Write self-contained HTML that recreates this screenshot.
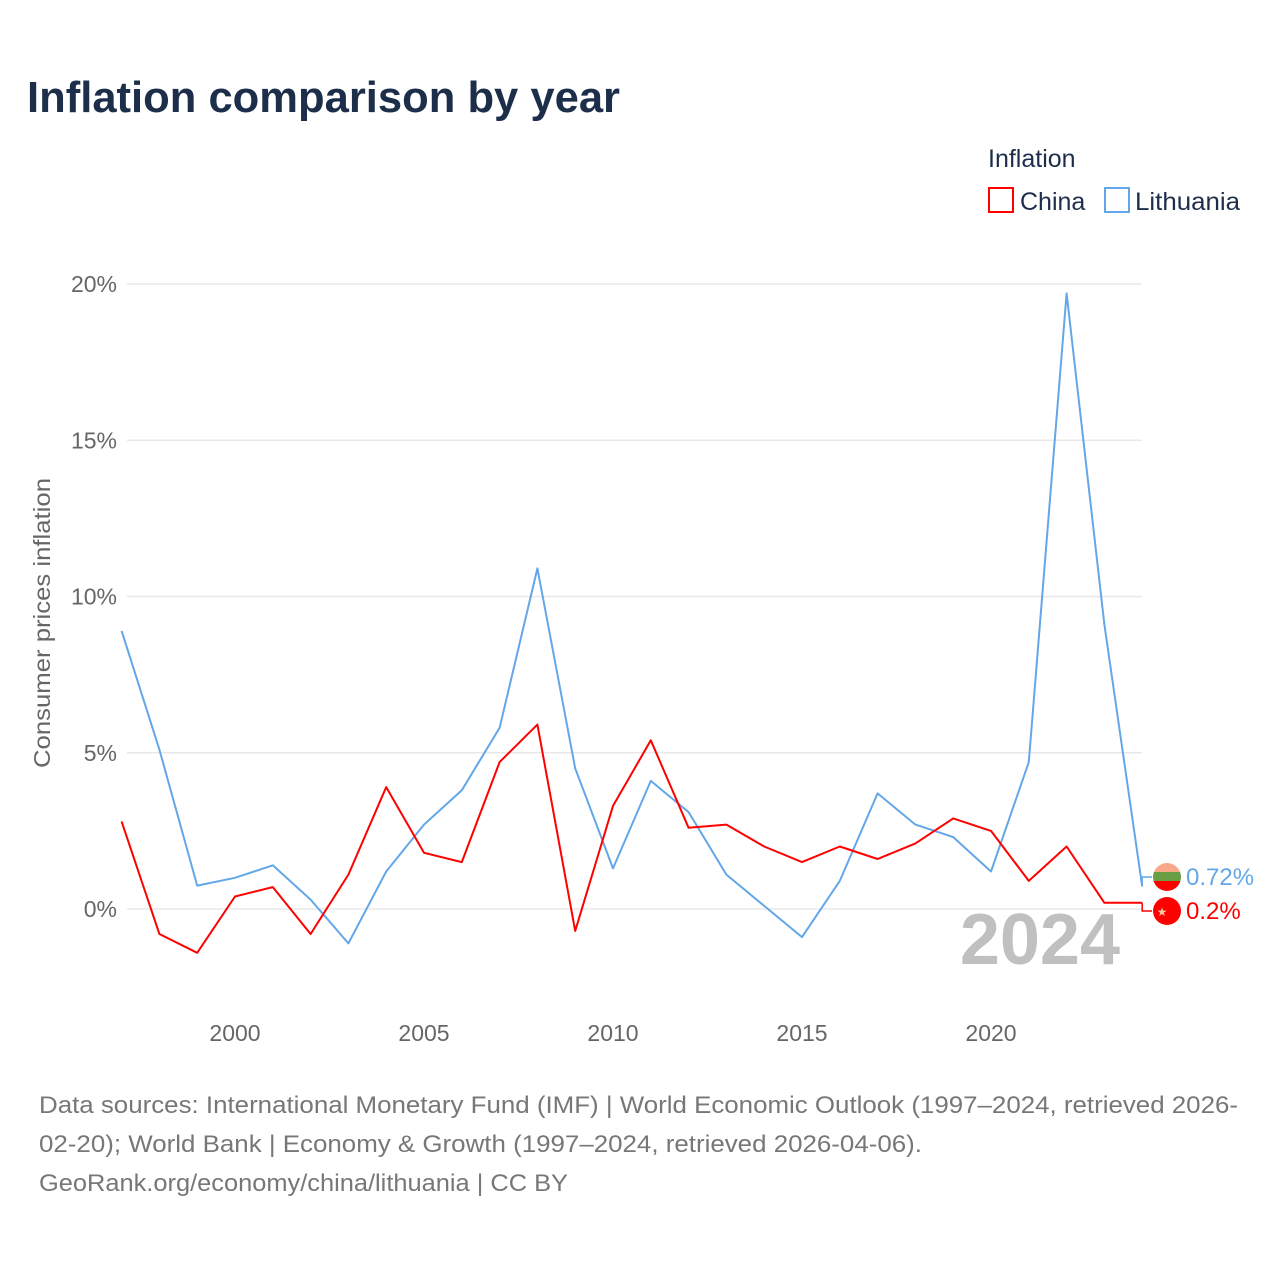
<!DOCTYPE html>
<html><head><meta charset="utf-8">
<style>
body{margin:0;background:#fff;font-family:"Liberation Sans",sans-serif;}
svg{display:block}
</style></head>
<body>
<svg id="chart" width="1280" height="1280" xmlns="http://www.w3.org/2000/svg">
<text x="27" y="112" font-size="44" font-weight="bold" fill="#1c2e4a" textLength="593" lengthAdjust="spacingAndGlyphs">Inflation comparison by year</text>
<text x="988" y="167" font-size="25" fill="#1c2e4a">Inflation</text>
<g><rect x="989" y="188" width="24" height="24" fill="none" stroke="#ff0000" stroke-width="2"/><text x="1020" y="210" font-size="25" fill="#1c2e4a">China</text></g>
<g><rect x="1105" y="188" width="24" height="24" fill="none" stroke="#63a7e8" stroke-width="2"/><text x="1135" y="210" font-size="25" fill="#1c2e4a" textLength="105" lengthAdjust="spacingAndGlyphs">Lithuania</text></g>
<text transform="translate(50,623) rotate(-90)" text-anchor="middle" font-size="23" fill="#666" textLength="290" lengthAdjust="spacingAndGlyphs">Consumer prices inflation</text>
<g id="grid"></g><g id="yt"></g><g id="xt"></g>
<text x="1120" y="964" text-anchor="end" font-size="72" font-weight="bold" fill="#c0c0c0">2024</text>
<g id="lines"></g>
<g><clipPath id="c1"><circle cx="1167" cy="877" r="14"/></clipPath><g clip-path="url(#c1)"><rect x="1150" y="860" width="34" height="12" fill="#f9a98a"/><rect x="1150" y="872" width="34" height="9" fill="#6a9e45"/><rect x="1150" y="881" width="34" height="12" fill="#ff0000"/></g></g>
<g><circle cx="1167" cy="911" r="14" fill="#ff0000"/><text x="1162" y="916" font-size="12" fill="#f8c8a0" text-anchor="middle">★</text></g>
<text x="1186" y="885" font-size="24" fill="#63a7e8">0.72%</text>
<text x="1186" y="919" font-size="24" fill="#ff0000">0.2%</text>
<text font-size="24" fill="#777"><tspan x="39" y="1113" textLength="1199" lengthAdjust="spacingAndGlyphs">Data sources: International Monetary Fund (IMF) | World Economic Outlook (1997–2024, retrieved 2026-</tspan><tspan x="39" y="1152" textLength="883" lengthAdjust="spacingAndGlyphs">02-20); World Bank | Economy &amp; Growth (1997–2024, retrieved 2026-04-06).</tspan><tspan x="39" y="1191" textLength="529" lengthAdjust="spacingAndGlyphs">GeoRank.org/economy/china/lithuania | CC BY</tspan></text>
</svg>
<script>
const years=[1997,1998,1999,2000,2001,2002,2003,2004,2005,2006,2007,2008,2009,2010,2011,2012,2013,2014,2015,2016,2017,2018,2019,2020,2021,2022,2023,2024];
const china=[2.8,-0.8,-1.4,0.4,0.7,-0.8,1.1,3.9,1.8,1.5,4.7,5.9,-0.7,3.3,5.4,2.6,2.7,2.0,1.5,2.0,1.6,2.1,2.9,2.5,0.9,2.0,0.2,0.2];
const lithuania=[8.9,5.1,0.75,1.0,1.4,0.3,-1.1,1.2,2.7,3.8,5.8,10.9,4.5,1.3,4.1,3.1,1.1,0.1,-0.9,0.9,3.7,2.7,2.3,1.2,4.7,19.7,9.1,0.72];
const yTicks=[0,5,10,15,20];
const xTicks=[2000,2005,2010,2015,2020];
const NS="http://www.w3.org/2000/svg";
const X=y=>235+(y-2000)*37.8;
const Y=v=>909-v*31.25;
function mk(t,a,p){const e=document.createElementNS(NS,t);for(const k in a)e.setAttribute(k,a[k]);p.appendChild(e);return e;}
const grid=document.getElementById('grid'),yt=document.getElementById('yt'),xt=document.getElementById('xt'),lines=document.getElementById('lines');
yTicks.forEach(v=>{
const l=mk('line',{x1:127,x2:1142,y1:Y(v),y2:Y(v),stroke:'#e8e8e8','stroke-width':1.5},grid);


const t=mk('text',{x:117,y:Y(v)+8,'text-anchor':'end','font-size':23,fill:'#666'},yt);
t.textContent=v+'%';


});
xTicks.forEach(v=>{
const t=mk('text',{x:X(v),y:1041,'text-anchor':'middle','font-size':23,fill:'#666'},xt);
t.textContent=v;


});
function line(vals,color,name){
const d=vals.map((v,i)=>(i?'L':'M')+X(years[i]).toFixed(1)+','+Y(v).toFixed(1)).join('');
const p=mk('path',{d:d,fill:'none',stroke:color,'stroke-width':2,'stroke-linejoin':'round'},lines);


}
line(lithuania,'#63a7e8','lithuania-line');
line(china,'#ff0000','china-line');
const lx=X(years[years.length-1]);
mk('path',{d:`M${lx},${Y(lithuania[lithuania.length-1])}L${lx},877L1152,877`,fill:'none',stroke:'#63a7e8','stroke-width':1.5},lines);
mk('path',{d:`M${lx},${Y(china[china.length-1])}L${lx},911L1152,911`,fill:'none',stroke:'#ff0000','stroke-width':1.5},lines);
</script>
</body></html>
